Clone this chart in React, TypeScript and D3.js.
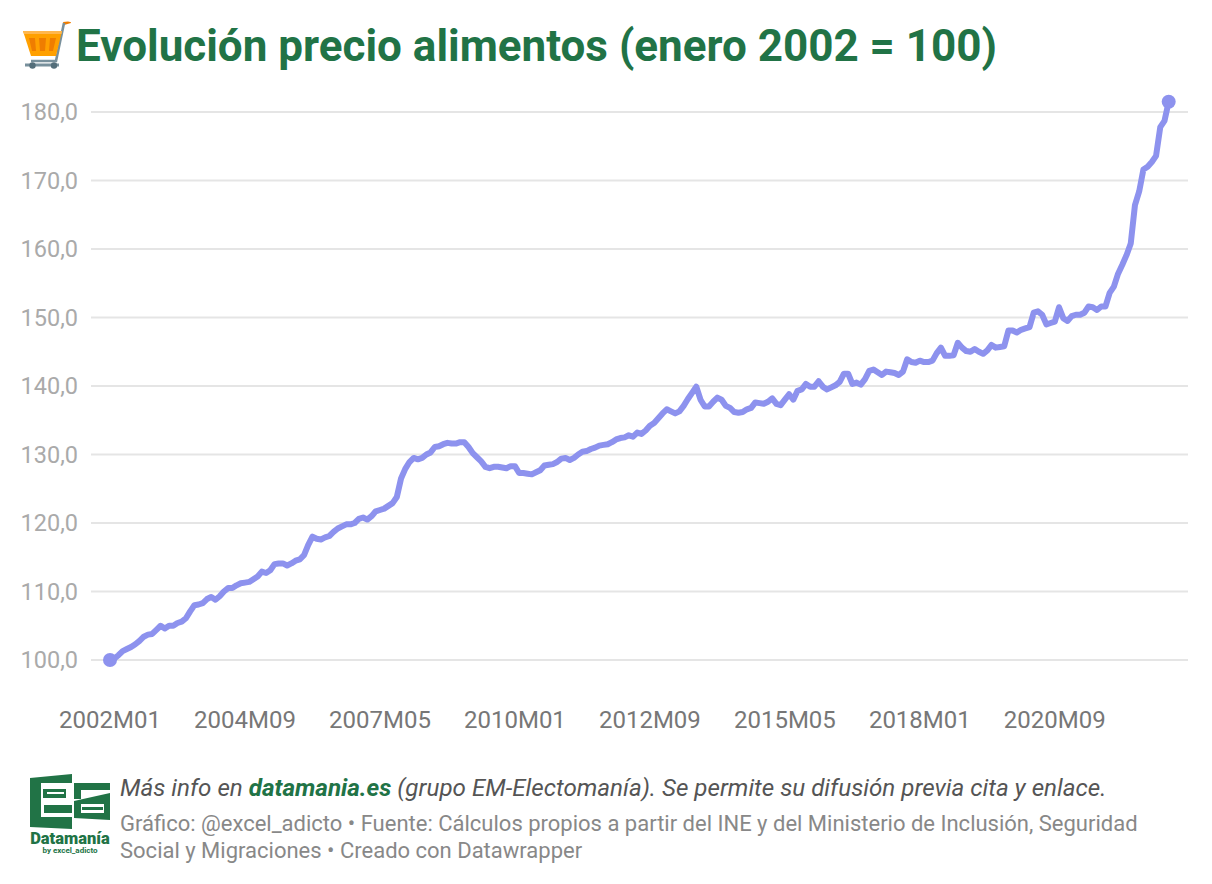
import { useMemo } from 'react';
import { line, curveLinear, scaleLinear } from 'd3';

// one row per year, starts at 2002M01
const values = [
  100.0, 100.2, 100.7, 101.3, 101.6, 101.9, 102.3, 102.8, 103.4, 103.7, 103.8, 104.4,
  105.0, 104.6, 105.0, 105.0, 105.4, 105.6, 106.1, 107.1, 108.0, 108.1, 108.3, 108.9,
  109.2, 108.8, 109.3, 110.0, 110.5, 110.5, 110.9, 111.2, 111.3, 111.4, 111.8, 112.2,
  112.9, 112.7, 113.1, 114.0, 114.1, 114.1, 113.8, 114.1, 114.5, 114.7, 115.3, 116.8,
  118.0, 117.7, 117.6, 117.9, 118.1, 118.7, 119.2, 119.5, 119.8, 119.8, 120.0, 120.6,
  120.8, 120.5, 121.0, 121.7, 121.9, 122.1, 122.5, 122.9, 123.8, 126.5, 127.9, 128.9,
  129.5, 129.3, 129.5, 130.0, 130.3, 131.1, 131.2, 131.5, 131.7, 131.6, 131.6, 131.8,
  131.8, 131.1, 130.2, 129.6, 129.0, 128.2, 128.0, 128.2, 128.2, 128.1, 128.0, 128.3,
  128.3, 127.3, 127.3, 127.2, 127.1, 127.4, 127.7, 128.4, 128.5, 128.6, 128.9, 129.4,
  129.5, 129.2, 129.5, 130.0, 130.4, 130.5, 130.8, 131.0, 131.3, 131.4, 131.5, 131.8,
  132.2, 132.4, 132.5, 132.8, 132.6, 133.2, 133.0, 133.5, 134.2, 134.6, 135.3, 136.0,
  136.6, 136.3, 136.0, 136.3, 137.1, 138.1, 139.0, 139.9, 138.0, 137.0, 137.0, 137.7,
  138.3, 138.0, 137.1, 136.8, 136.2, 136.1, 136.2, 136.6, 136.8, 137.6, 137.5, 137.4,
  137.7, 138.2, 137.4, 137.2, 138.0, 138.8, 138.0, 139.3, 139.5, 140.3, 139.9, 139.9,
  140.7, 139.9, 139.5, 139.8, 140.1, 140.6, 141.8, 141.8, 140.3, 140.5, 140.2, 141.0,
  142.2, 142.4, 142.0, 141.6, 142.1, 142.0, 141.9, 141.6, 142.1, 143.9, 143.5, 143.4,
  143.7, 143.5, 143.5, 143.7, 144.8, 145.6, 144.4, 144.4, 144.5, 146.3, 145.6, 145.1,
  145.0, 145.4, 145.0, 144.7, 145.2, 146.0, 145.6, 145.7, 145.8, 148.1, 148.1, 147.8,
  148.2, 148.4, 148.6, 150.7, 150.9, 150.4, 149.0, 149.2, 149.4, 151.5, 149.9, 149.5,
  150.2, 150.4, 150.4, 150.7, 151.6, 151.5, 151.1, 151.6, 151.6, 153.6, 154.5, 156.4,
  157.7, 159.1, 160.8, 166.4, 168.4, 171.6, 172.0, 172.7, 173.6, 177.8, 178.7, 181.5,
];
const yTicks = [100, 110, 120, 130, 140, 150, 160, 170, 180];
const xLabels = ['2002M01', '2004M09', '2007M05', '2010M01', '2012M09', '2015M05', '2018M01', '2020M09'];
const xLabelStep = 32;

const green = '#217346';
const lineColor = '#8d92ee';

const CartIcon = () => (
  <g>
    <path d="M63 22 L68 21.5 Q71 21.5 71 23 L64 25 Z" fill="#ef7d00" />
    <path d="M64 23 L56 61 L31 61" fill="none" stroke="#78909c" strokeWidth={2.6} />
    <path d="M25 65 L59 65" stroke="#78909c" strokeWidth={3} />
    <circle cx={32.5} cy={65.5} r={3.2} fill="#546e7a" />
    <circle cx={54} cy={65.5} r={3.2} fill="#546e7a" />
    <path d="M23 31 L62 31 L56 56 L31 56 Z" fill="#ffa000" />
    <path d="M23 31 L62 31 L61.5 34 L24 34 Z" fill="#ffb74d" />
    <path d="M29 38 L35 38 L36 51 L32 51 Z M39 38 L46 38 L45 51 L40 51 Z M50 38 L56 38 L53 51 L49 51 Z" fill="#ef7d00" />
  </g>
);

const Logo = () => (
  <g fill={green}>
    <path d="M30 778 L72 774 L72 783 L41 783 L41 817 L72 817 L72 829 L30 827 Z" />
    <rect x={43} y={789} width={23} height={9} />
    <rect x={47} y={792} width={17} height={2} fill="#fff" />
    <rect x={44} y={805} width={28} height={8} />
    <path d="M74 783 L110 783 L110 790 L81 790 L81 799 L74 799 Z" />
    <path d="M74 801 L110 793 L110 820 L74 818 Z" />
    <rect x={81} y={804} width={23} height={9} fill="#fff" />
    <rect x={82} y={807} width={21} height={3} fill={green} />
    <text x={70} y={844} textAnchor="middle" fontFamily="Roboto" fontWeight={900} fontSize={16.5}>Datamanía</text>
    <text x={70} y={853} textAnchor="middle" fontFamily="Roboto" fontWeight={700} fontSize={8}>by excel_adicto</text>
  </g>
);

const App = () => {
  const x = useMemo(() => scaleLinear().domain([0, values.length - 1]).range([110, 1168.7]), []);
  const y = useMemo(() => scaleLinear().domain([100, 180]).range([660, 112]), []);
  const path = useMemo(
    () =>
      line<number>()
        .curve(curveLinear)
        .x((d, i) => x(i))
        .y((d) => y(d))(values),
    [x, y],
  );

  return (
    <svg
      width={1212}
      height={884}
      style={{ position: 'absolute', left: 0, top: 0, background: '#fff' }}
      fontFamily="Roboto"
    >
      <CartIcon />
      <text x={76} y={61} fontSize={44} fontWeight={700} fill={green}>
        Evolución precio alimentos (enero 2002 = 100)
      </text>

      {yTicks.map((t) => (
        <g key={t}>
          <line x1={91} x2={1188} y1={y(t)} y2={y(t)} stroke="#e5e5e5" strokeWidth={2} />
          <text x={78} y={y(t) + 8} textAnchor="end" fontSize={23.5} fill="#aaa">
            {t.toFixed(1).replace('.', ',')}
          </text>
        </g>
      ))}

      {xLabels.map((l, i) => (
        <text key={l} x={x(i * xLabelStep)} y={728} textAnchor="middle" fontSize={24} fill="#777">
          {l}
        </text>
      ))}

      <path d={path!} fill="none" stroke={lineColor} strokeWidth={6} strokeLinejoin="round" />
      <circle cx={x(0)} cy={y(values[0])} r={7} fill={lineColor} />
      <circle cx={x(values.length - 1)} cy={y(values[values.length - 1])} r={7} fill={lineColor} />

      <Logo />
      <text x={120} y={796} fontSize={24.2} fontStyle="italic" fill="#555">
        Más info en{' '}
        <tspan fontWeight={700} fill={green}>datamania.es</tspan>
        {' '}(grupo EM-Electomanía). Se permite su difusión previa cita y enlace.
      </text>
      <text x={120} y={831} fontSize={22} fill="#888">
        Gráfico: @excel_adicto • Fuente: Cálculos propios a partir del INE y del Ministerio de Inclusión, Seguridad
      </text>
      <text x={120} y={858} fontSize={22} fill="#888">
        Social y Migraciones • Creado con Datawrapper
      </text>
    </svg>
  );
};

export default App;
